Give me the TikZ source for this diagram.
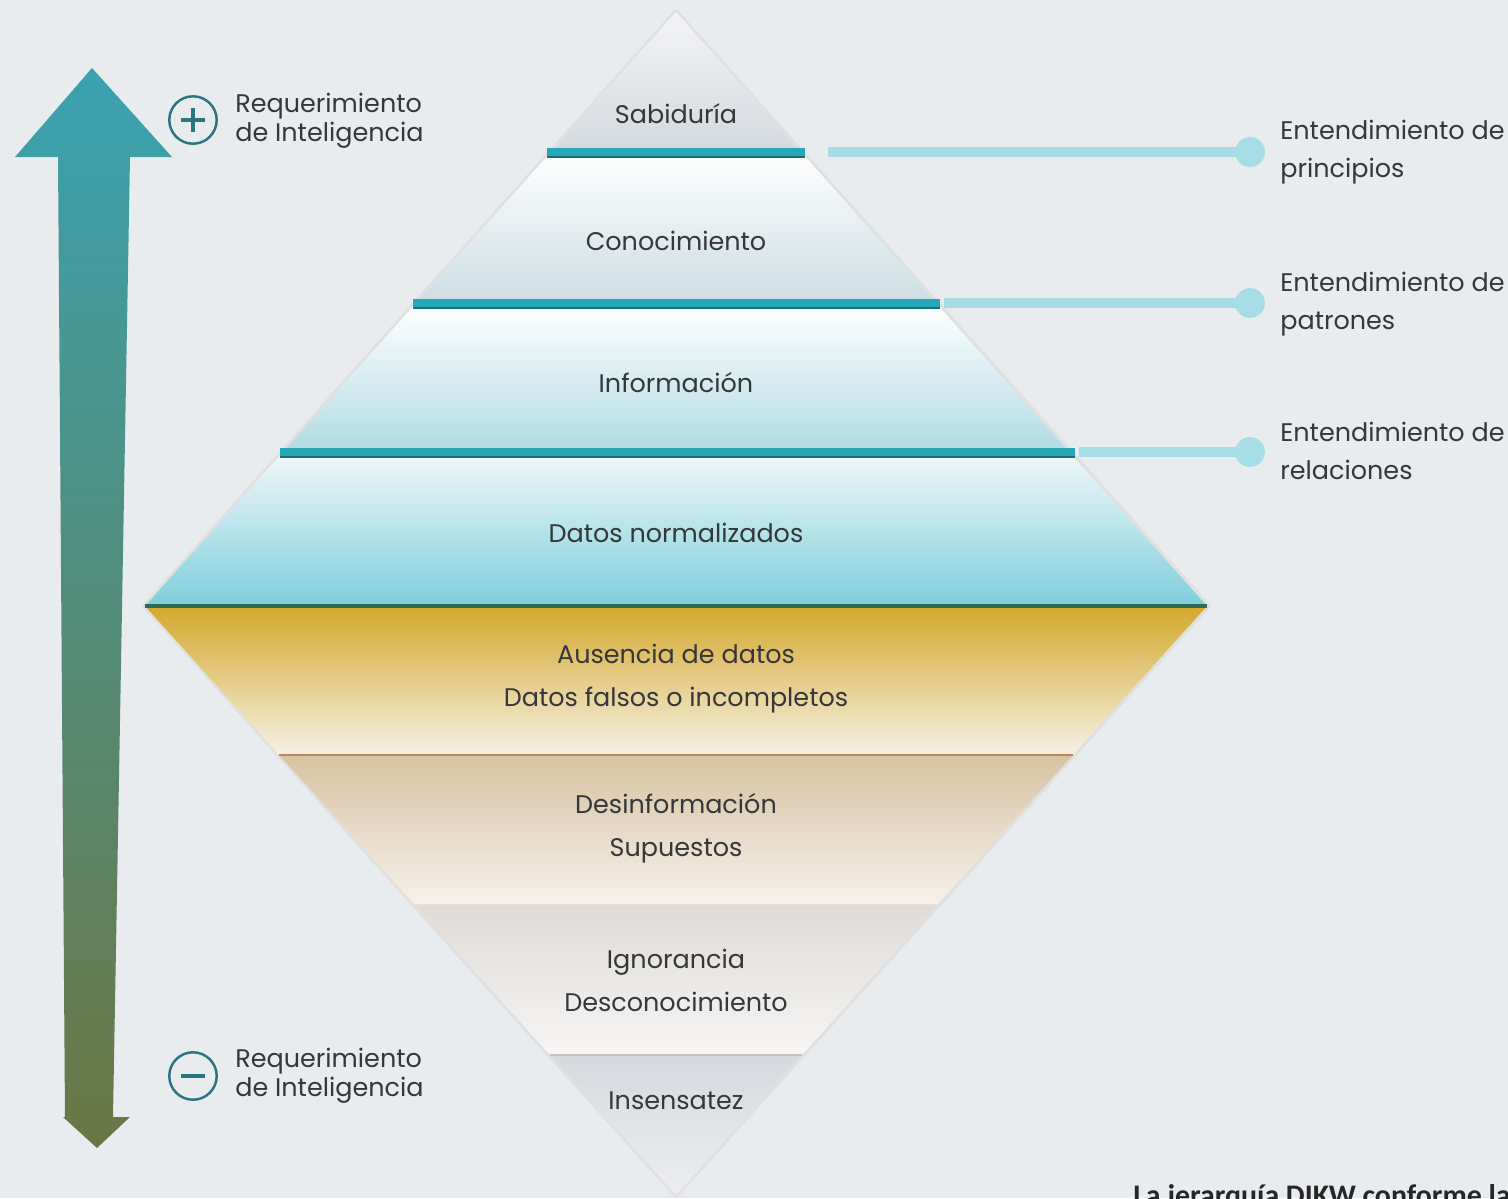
\documentclass[tikz,border=0pt]{standalone}
\usepackage{fontspec}
\setmainfont{Poppins}
\newfontfamily\notefont{Carlito}
\definecolor{bgc}{HTML}{E9ECEF}
\definecolor{txt}{HTML}{353739}
\definecolor{tealline}{HTML}{26A7B8}
\definecolor{tealdark}{HTML}{16707C}
\definecolor{conn}{HTML}{A7DDE6}
\definecolor{arrowtop}{HTML}{3BA2B0}
\definecolor{arrowmid}{HTML}{4A8886}
\definecolor{arrowbot}{HTML}{6A7744}
\definecolor{icon}{HTML}{2C7580}
\definecolor{sabtop}{HTML}{F3F4F6}
\definecolor{sabbot}{HTML}{D3D9DE}
\definecolor{conbot}{HTML}{CCDDE3}
\definecolor{infbot}{HTML}{B0DBE4}
\definecolor{dattop}{HTML}{F2F8FA}
\definecolor{datbot}{HTML}{7ECEDB}
\definecolor{austop}{HTML}{D3A82C}
\definecolor{ausmid}{HTML}{EAD7A6}
\definecolor{ausbot}{HTML}{F6F1E6}
\definecolor{destop}{HTML}{D8C2A2}
\definecolor{desbot}{HTML}{F6F1EA}
\definecolor{igntop}{HTML}{DEDAD6}
\definecolor{ignbot}{HTML}{F7F6F5}
\definecolor{instop}{HTML}{D5D8DD}
\definecolor{insbot}{HTML}{ECEEF1}
\definecolor{sepbrown}{HTML}{B98A58}
\definecolor{seplight}{HTML}{E4DDD2}
\definecolor{sepgrey}{HTML}{C9BDBD}
\definecolor{sepgreen}{HTML}{2E6A55}
\begin{document}
\begin{tikzpicture}[x=0.02cm,y=-0.02cm,
  lbl/.style={font=\fontsize{14.5}{24.5}\selectfont, text=txt, align=center, inner sep=0pt},
  sidelbl/.style={font=\fontsize{14.5}{16.5}\selectfont, text=txt, align=left, anchor=west, inner sep=0pt},
  rightlbl/.style={font=\fontsize{14.5}{21.6}\selectfont, text=txt, align=left, anchor=west, inner sep=0pt},
  bandsep/.style={line width=4pt, tealline},
  bandsepdark/.style={line width=1.2pt, tealdark},
  connector/.style={line width=5.5pt, conn},
  dot/.style={circle, fill=conn, minimum size=17pt, inner sep=0pt},
  iconring/.style={circle, draw=icon, line width=1.4pt, minimum size=27pt, inner sep=0pt},
]
% background
\fill[bgc] (0,0) rectangle (1508,1198);
\useasboundingbox (0,0) rectangle (1508,1198);

% soft outline of diamond
\draw[line width=3pt, draw=black!12, line join=round] (676,12) -- (1208,606) -- (676,1195) -- (145,606) -- cycle;

% upper bands
\shade[top color=sabtop, bottom color=sabbot] (676,12) -- (801,152) -- (551,152) -- cycle;
\shade[top color=white, bottom color=conbot] (551,152) -- (801,152) -- (936,303) -- (416,303) -- cycle;
\shade[top color=white, bottom color=infbot] (416,303) -- (936,303) -- (1069,452) -- (283,452) -- cycle;
\shade[top color=dattop, bottom color=datbot] (283,452) -- (1069,452) -- (1207,606) -- (145,606) -- cycle;

% lower bands
\shade[top color=austop, middle color=ausmid, bottom color=ausbot] (145,606) -- (1207,606) -- (1073,755) -- (279,755) -- cycle;
\shade[top color=destop, bottom color=desbot] (279,755) -- (1073,755) -- (937,905) -- (415,905) -- cycle;
\shade[top color=igntop, bottom color=ignbot] (415,905) -- (937,905) -- (802,1055) -- (550,1055) -- cycle;
\shade[top color=instop, bottom color=insbot] (550,1055) -- (802,1055) -- (676,1195) -- cycle;

% lower separators
\draw[line width=1.5pt, sepbrown] (279,755) -- (1073,755);
\draw[line width=1pt, seplight] (415,905) -- (937,905);
\draw[line width=1.2pt, sepgrey] (550,1055) -- (802,1055);
\draw[line width=2pt, sepgreen] (145,606) -- (1207,606);

% upper separator lines (named ends)
\coordinate (s1l) at (547,152); \coordinate (s1r) at (805,152);
\coordinate (s2l) at (413,303); \coordinate (s2r) at (940,303);
\coordinate (s3l) at (280,452); \coordinate (s3r) at (1075,452);
\foreach \a/\b in {s1l/s1r, s2l/s2r, s3l/s3r}{
  \draw[bandsep] (\a) -- (\b);
  \draw[bandsepdark] ([yshift=-2.6pt]\a) -- ([yshift=-2.6pt]\b);
}

% connectors and dots
\node[dot] (d1) at (1250,152) {};
\node[dot] (d2) at (1250,303) {};
\node[dot] (d3) at (1250,452) {};
\coordinate (c1) at (828,152);
\coordinate (c2) at (944,303);
\coordinate (c3) at (1079,452);
\draw[connector] (c1) -- (d1.center);
\draw[connector] (c2) -- (d2.center);
\draw[connector] (c3) -- (d3.center);

\node[rightlbl] (r1) at (1280,152) {Entendimiento de\\principios};
\node[rightlbl] (r2) at (1280,304) {Entendimiento de\\patrones};
\node[rightlbl] (r3) at (1280,451) {Entendimiento de\\relaciones};

% band labels
\node[lbl] (sab) at (676,114) {Sabiduría};
\node[lbl] (con) at (676,241) {Conocimiento};
\node[lbl] (inf) at (676,383) {Información};
\node[lbl] (dat) at (676,533) {Datos normalizados};
\node[lbl] (aus) at (676,679) {Ausencia de datos\\Datos falsos o incompletos};
\node[lbl] (des) at (676,828) {Desinformación\\Supuestos};
\node[lbl] (ign) at (676,980) {Ignorancia\\Desconocimiento};
\node[lbl] (ins) at (676,1101) {Insensatez};

% left arrow
\shade[top color=arrowtop, middle color=arrowmid, bottom color=arrowbot]
  (92,68) -- (172,157) -- (130,157) -- (113,1117) -- (130,1117) -- (97,1148) -- (63,1117) -- (65,1117) -- (58,157) -- (15,157) -- cycle;

% plus / minus icons
\node[iconring] (plus) at (193,120) {};
\draw[icon, line width=2.6pt] ([xshift=-7pt]plus.center) -- ([xshift=7pt]plus.center);
\draw[icon, line width=2.6pt] ([yshift=-7pt]plus.center) -- ([yshift=7pt]plus.center);
\node[sidelbl] (reqp) at (235,121) {Requerimiento\\de Inteligencia};

\node[iconring] (minus) at (193,1076) {};
\draw[icon, line width=2.6pt] ([xshift=-7pt]minus.center) -- ([xshift=7pt]minus.center);
\node[sidelbl] (reqm) at (235,1076) {Requerimiento\\de Inteligencia};

% cut-off note at bottom right
\node[anchor=north west, inner sep=0pt, font=\notefont\bfseries\fontsize{17}{20}\selectfont, text=black!85] (note) at (1133,1184) {La jerarquía DIKW conforme la i};
\end{tikzpicture}
\end{document}
